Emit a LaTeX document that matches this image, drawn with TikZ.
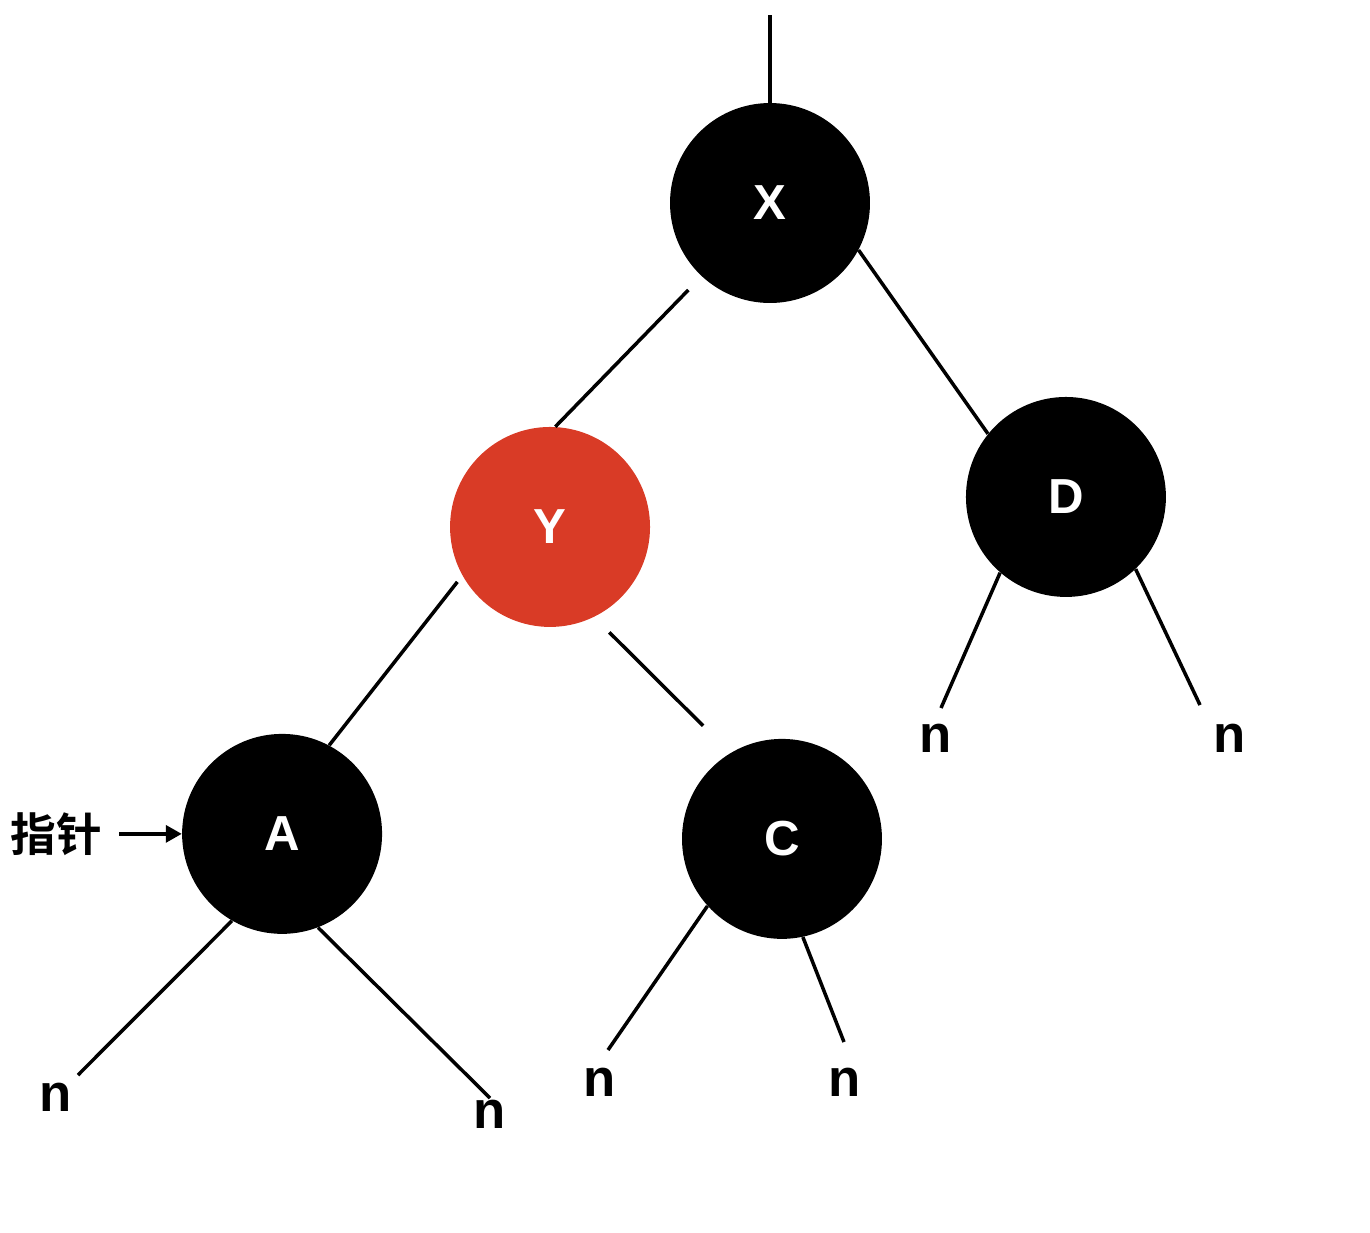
\documentclass[tikz,border=0pt]{standalone}
\usepackage{fontspec}
\setmainfont{Liberation Sans}
\newfontfamily\cjk{Noto Sans CJK SC Bold}
\usetikzlibrary{arrows.meta}
\definecolor{nodered}{RGB}{217,59,38}
\tikzstyle{blacknode} = [circle, minimum size=4cm, inner sep=0pt, fill=black, text=white, font=\fontsize{28}{30}\selectfont\bfseries]
\tikzstyle{rednode} = [blacknode, fill=nodered]
\tikzstyle{leaf} = [inner sep=0pt, font=\fontsize{30}{32}\selectfont\bfseries]
\tikzstyle{edge} = [line width=2pt]
\tikzstyle{arrow} = [line width=2pt, -{Triangle[length=0.32cm, width=0.34cm]}]

\begin{document}
\begin{tikzpicture}[x=0.02cm, y=-0.02cm, node distance=6cm]
    \useasboundingbox (0,0) rectangle (1370,1232);

    \node (X) [blacknode] at (770,203) {X};
    \node (Y) [rednode, below of=X, xshift=-4.4cm, yshift=-0.48cm] {Y};
    \node (D) [blacknode, below of=X, xshift=5.92cm, yshift=0.12cm] {D};
    \node (A) [blacknode, below of=Y, xshift=-5.36cm, yshift=-0.14cm] {A};
    \node (C) [blacknode, below of=Y, xshift=4.64cm, yshift=-0.24cm] {C};

    \node (nDl) [leaf, node distance=4.82cm, below of=D, xshift=-2.61cm] {n};
    \node (nDr) [leaf, node distance=4.82cm, below of=D, xshift=3.27cm] {n};
    \node (nAl) [leaf, node distance=5.26cm, below of=A, xshift=-4.53cm] {n};
    \node (nAr) [leaf, node distance=5.6cm, below of=A, xshift=4.15cm] {n};
    \node (nCl) [leaf, node distance=4.86cm, below of=C, xshift=-3.65cm] {n};
    \node (nCr) [leaf, node distance=4.86cm, below of=C, xshift=1.25cm] {n};

    \node (ptr) [inner sep=0pt, node distance=4.52cm, left of=A, font=\cjk\fontsize{26}{28}\selectfont] {指针};

    \coordinate (root) at (770,15);
    \coordinate (eDl) at (941,708);
    \coordinate (eDr) at (1200,705);
    \coordinate (eAl) at (78,1075);
    \coordinate (eAr) at (490,1098);
    \coordinate (eCl) at (608,1050);
    \coordinate (eCr) at (844,1042);

    \draw [edge] (X.north) -- (root);
    \draw [edge, shorten <=0.38cm] (X.227) -- (Y.87);
    \draw [edge] (X.332) -- (D.141);
    \draw [edge, shorten <=0.16cm] (Y.209) -- (A.62);
    \draw [edge, shorten <=0.43cm, shorten >=0.77cm] (Y.296) -- (C.121);

    \draw [edge] (D.229) -- (eDl);
    \draw [edge] (D.314) -- (eDr);
    \draw [edge] (A.240) -- (eAl);
    \draw [edge] (A.291) -- (eAr);
    \draw [edge] (C.222) -- (eCl);
    \draw [edge] (C.282) -- (eCr);

    \draw [arrow, shorten <=0.34cm] (ptr.east) -- (A.west);
\end{tikzpicture}
\end{document}
